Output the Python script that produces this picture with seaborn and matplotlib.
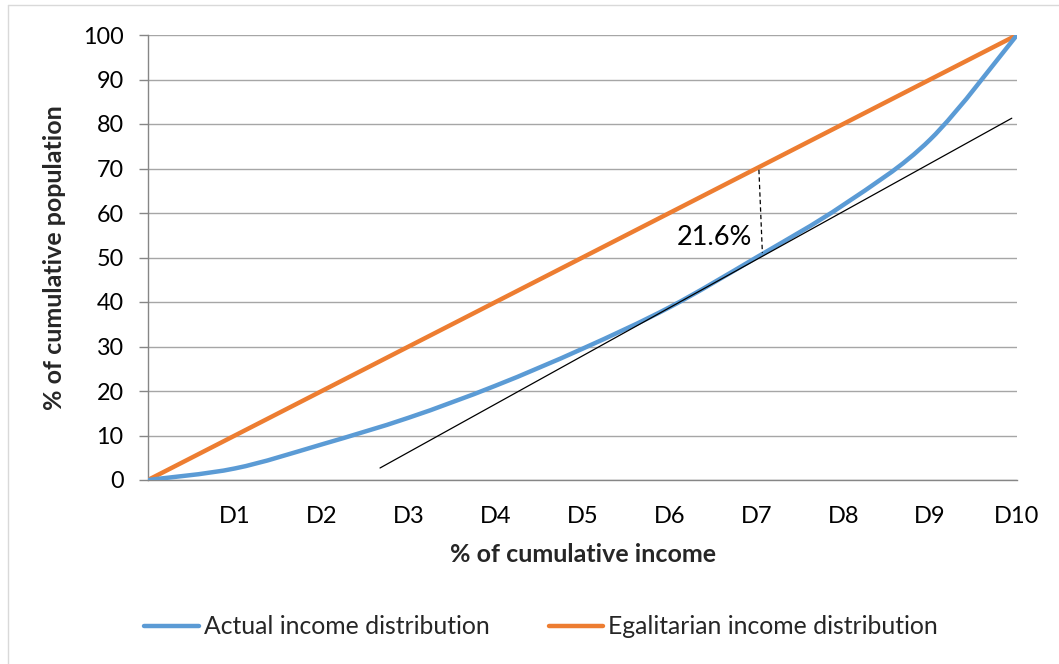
import matplotlib
matplotlib.use("Agg")
import matplotlib.pyplot as plt
import matplotlib.lines as mlines
from matplotlib.path import Path
from matplotlib.patches import PathPatch
import pandas as pd
import seaborn as sns

# Decile categories on the income axis (first position is the origin)
deciles = ["", "D1", "D2", "D3", "D4", "D5", "D6", "D7", "D8", "D9", "D10"]
# Cumulative population share (%) at each decile
actual = [0, 2.6, 8.0, 14.0, 21.2, 29.5, 38.8, 50.0, 61.8, 76.5, 100]
egalitarian = [0, 10, 20, 30, 40, 50, 60, 70, 80, 90, 100]

# Tangent to the actual curve around D7, and the gap marker
tangent_x = [2.67, 9.94]
tangent_y = [2.7, 81.3]
gap_x = [7.03, 7.07]
gap_y = [69.7, 51.0]
gap_label = "21.6%"

series_names = ["Actual income distribution", "Egalitarian income distribution"]
colors = {"Actual income distribution": "#5B9BD5",
          "Egalitarian income distribution": "#ED7D31"}

pos = list(range(len(deciles)))
df_eg = pd.DataFrame({"pos": pos, "value": egalitarian, "series": series_names[1]})


def smooth_path(xs, ys):
    """Cubic Bezier path through every point (spreadsheet-style smoothed line)."""
    pts = list(zip(xs, ys))
    n = len(pts)
    verts = [pts[0]]
    codes = [Path.MOVETO]
    for i in range(n - 1):
        p_prev = pts[max(i - 1, 0)]
        p0 = pts[i]
        p1 = pts[i + 1]
        p_next = pts[min(i + 2, n - 1)]
        c1 = (p0[0] + (p1[0] - p_prev[0]) / 6, p0[1] + (p1[1] - p_prev[1]) / 6)
        c2 = (p1[0] - (p_next[0] - p0[0]) / 6, p1[1] - (p_next[1] - p0[1]) / 6)
        verts += [c1, c2, p1]
        codes += [Path.CURVE4] * 3
    return Path(verts, codes)


sns.set_theme(style="white")
plt.rcParams["font.family"] = ["Lato", "DejaVu Sans"]

W, H = 1059, 664
fig = plt.figure(figsize=(W / 100, H / 100), dpi=100)
ax = fig.add_axes([148 / W, 1 - 480 / H, (1017 - 148) / W, (480 - 35) / H])

grid_c = "#A6A6A6"
axis_c = "#868686"
lw = 3.2

# Egalitarian line through seaborn, actual distribution as a smoothed curve
sns.lineplot(data=df_eg, x="pos", y="value", color=colors[series_names[1]],
             linewidth=lw, ax=ax, legend=False, zorder=3)
ax.add_patch(PathPatch(smooth_path(pos, actual), facecolor="none",
                       edgecolor=colors[series_names[0]], linewidth=lw,
                       capstyle="round", zorder=3.5))

# Tangent and gap marker
ax.plot(tangent_x, tangent_y, color="black", linewidth=0.9, zorder=4)
ax.plot(gap_x, gap_y, color="black", linewidth=0.9, linestyle=(0, (3.5, 2.5)), zorder=4)
ax.text(6.95, 54.6, gap_label, ha="right", va="center", fontsize=19.5, color="black", zorder=5)

ax.set_xlim(0, 10)
ax.set_ylim(0, 100)
ax.set_yticks(range(0, 101, 10))
ax.set_xticks(pos)
ax.set_xticklabels(deciles)

ax.grid(axis="y", color=grid_c, linewidth=1.0)
ax.grid(axis="x", visible=False)
ax.set_axisbelow(True)

for s in ["top", "right"]:
    ax.spines[s].set_visible(False)
for s in ["left", "bottom"]:
    ax.spines[s].set_color(axis_c)
    ax.spines[s].set_linewidth(1.0)

ax.tick_params(axis="y", which="major", left=True, length=6.5, width=1.0,
               color=axis_c, labelsize=16.8, pad=11, labelcolor="black")
ax.tick_params(axis="x", which="major", bottom=False, labelsize=17, pad=13,
               labelcolor="black")

ax.set_xlabel("% of cumulative income", fontsize=18, fontweight="bold", labelpad=11)
ax.set_ylabel("% of cumulative population", fontsize=18, fontweight="bold", labelpad=12)

handles = [mlines.Line2D([], [], color=colors[n], linewidth=lw) for n in series_names]
fig.legend(handles, series_names, loc="center", bbox_to_anchor=(541 / W, 1 - 627 / H),
           ncol=2, frameon=False, fontsize=17.8, handlelength=2.2, handletextpad=0.2,
           columnspacing=2.4, borderpad=0, borderaxespad=0)

# Chart-area border on the left and top edges
fig.add_artist(mlines.Line2D([8 / W, 8 / W], [0, 1 - 5 / H], transform=fig.transFigure,
                             color="#D9D9D9", linewidth=1.0))
fig.add_artist(mlines.Line2D([8 / W, 1], [1 - 5 / H, 1 - 5 / H], transform=fig.transFigure,
                             color="#D9D9D9", linewidth=1.0))

fig.savefig("out.png", dpi=100, facecolor="white")
